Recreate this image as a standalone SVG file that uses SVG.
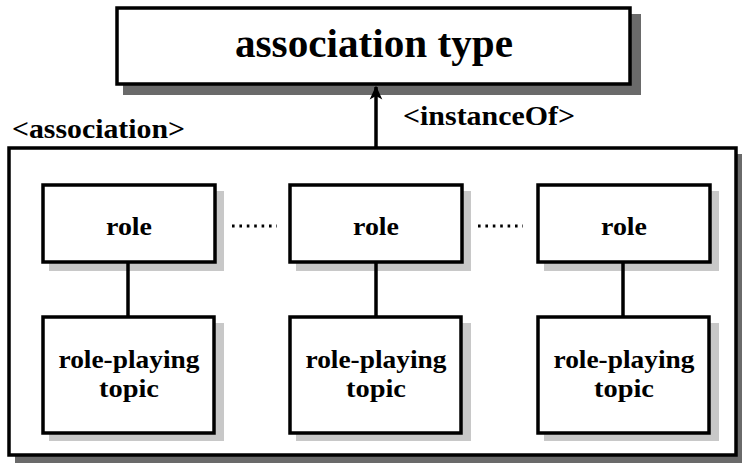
<svg xmlns="http://www.w3.org/2000/svg" width="742" height="466" viewBox="0 0 742 466">
<style>
.box{fill:#fff;stroke:#000;stroke-width:3.5}
.shd{fill:#c8c8c8}
.dshd{fill:#6a6a6a}
.t{font-family:'Times New Roman','Liberation Serif',serif;font-weight:700;fill:#000;text-anchor:middle}
.lbl{font-family:'Times New Roman','Liberation Serif',serif;font-weight:700;fill:#000}
.c{stroke:#000;stroke-width:3.5;fill:none}
.dot{stroke:#000;stroke-width:3;fill:none;stroke-dasharray:2.6 4.8}
</style>
<defs>
<marker id="ah" viewBox="0 0 10 10" refX="9" refY="5" markerWidth="4" markerHeight="4" orient="auto" markerUnits="strokeWidth">
<path d="M0,0.5 L10,5 L0,9.5 L2.5,5 Z" fill="#000"/>
</marker>
</defs>
<rect width="742" height="466" fill="#fff"/>

<g id="association-type">
<rect class="dshd" x="123" y="14" width="518" height="81"/>
<rect class="box" x="117" y="8" width="513" height="76"/>
<text class="t" x="374" y="57" font-size="40" textLength="278" lengthAdjust="spacingAndGlyphs">association type</text>
</g>

<g id="association">
<rect class="dshd" x="15" y="154" width="727" height="309"/>
<rect class="box" x="9" y="148" width="727" height="307"/>
<text class="lbl" x="12" y="138" font-size="27" textLength="173" lengthAdjust="spacingAndGlyphs">&lt;association&gt;</text>
</g>

<g id="role1">
<rect class="shd" x="49" y="191" width="175" height="80"/>
<rect class="box" x="43" y="185" width="172" height="77"/>
<text class="t" x="129" y="235" font-size="26" textLength="46" lengthAdjust="spacingAndGlyphs">role</text>
</g>
<g id="role2">
<rect class="shd" x="296" y="191" width="175" height="80"/>
<rect class="box" x="290" y="185" width="172" height="77"/>
<text class="t" x="376" y="235" font-size="26" textLength="46" lengthAdjust="spacingAndGlyphs">role</text>
</g>
<g id="role3">
<rect class="shd" x="544" y="191" width="175" height="80"/>
<rect class="box" x="538" y="185" width="172" height="77"/>
<text class="t" x="624" y="235" font-size="26" textLength="46" lengthAdjust="spacingAndGlyphs">role</text>
</g>

<g id="topic1">
<rect class="shd" x="49" y="323" width="175" height="118"/>
<rect class="box" x="43" y="317" width="171" height="116"/>
<text class="t" x="129" y="368" font-size="25" textLength="141" lengthAdjust="spacingAndGlyphs">role-playing</text>
<text class="t" x="129" y="397" font-size="25" textLength="60" lengthAdjust="spacingAndGlyphs">topic</text>
</g>
<g id="topic2">
<rect class="shd" x="296" y="323" width="175" height="118"/>
<rect class="box" x="290" y="317" width="171" height="116"/>
<text class="t" x="376" y="368" font-size="25" textLength="141" lengthAdjust="spacingAndGlyphs">role-playing</text>
<text class="t" x="376" y="397" font-size="25" textLength="60" lengthAdjust="spacingAndGlyphs">topic</text>
</g>
<g id="topic3">
<rect class="shd" x="544" y="323" width="175" height="118"/>
<rect class="box" x="538" y="317" width="171" height="116"/>
<text class="t" x="624" y="368" font-size="25" textLength="141" lengthAdjust="spacingAndGlyphs">role-playing</text>
<text class="t" x="624" y="397" font-size="25" textLength="60" lengthAdjust="spacingAndGlyphs">topic</text>
</g>

<g id="connectors">
<line class="c" x1="376" y1="148" x2="376" y2="87" marker-end="url(#ah)"/>
<text class="lbl" x="403" y="125" font-size="27" textLength="172" lengthAdjust="spacingAndGlyphs">&lt;instanceOf&gt;</text>
<line class="c" x1="128" y1="262" x2="128" y2="317"/>
<line class="c" x1="376" y1="262" x2="376" y2="317"/>
<line class="c" x1="623" y1="262" x2="623" y2="317"/>
<line class="dot" x1="232" y1="226" x2="277" y2="226"/>
<line class="dot" x1="478" y1="226" x2="523" y2="226"/>
</g>
</svg>
